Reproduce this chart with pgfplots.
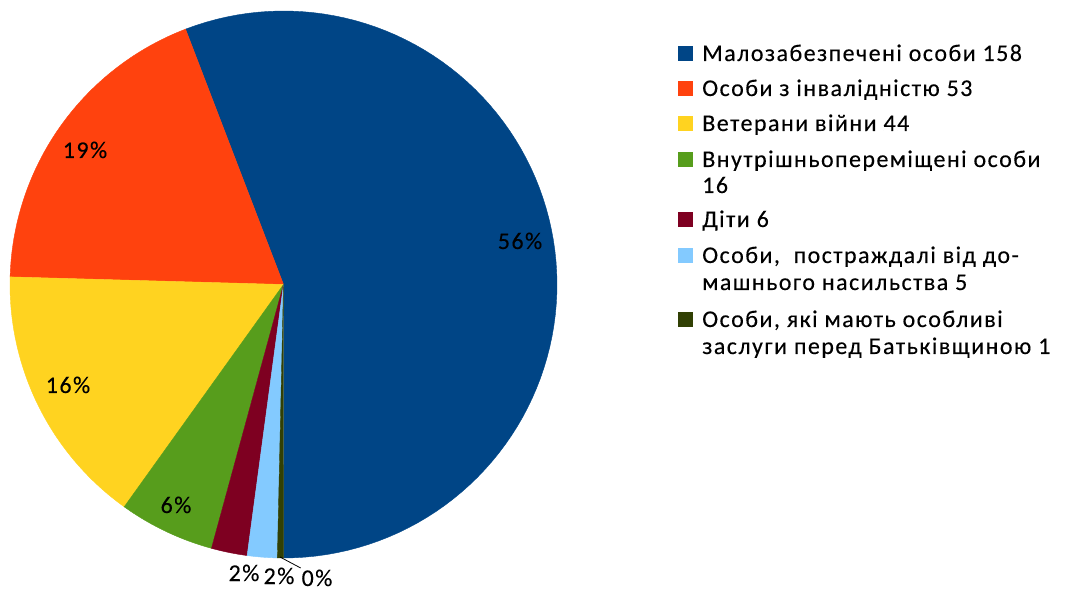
\documentclass[border=0pt]{standalone}
\usepackage{pgfplots}
\usepackage{pgfplotstable}
\pgfplotsset{compat=1.18}
\usepackage{fontspec}
\setmainfont{Carlito}[LetterSpace=6, FakeBold=0.2]
\definecolor{cA}{HTML}{004586}
\definecolor{cB}{HTML}{FF420E}
\definecolor{cC}{HTML}{FFD320}
\definecolor{cD}{HTML}{579D1C}
\definecolor{cE}{HTML}{7E0021}
\definecolor{cF}{HTML}{83CAFF}
\definecolor{cG}{HTML}{314004}
\pgfplotstableread{
value color
158 cA
53 cB
44 cC
16 cD
6 cE
5 cF
1 cG
}\piedata
\begin{document}
\begin{tikzpicture}
\useasboundingbox (0,0) rectangle (798.75pt,442.5pt);
\begin{axis}[at={(0,0)}, anchor=south west, scale only axis,
  width=798.75pt, height=442.5pt, xmin=0, xmax=1065, ymin=0, ymax=590,
  hide axis, clip=false]
\pgfmathsetmacro\cum{-90}
\pgfplotsforeachungrouped \i in {0,...,6}{%
  \pgfplotstablegetelem{\i}{value}\of\piedata \let\v\pgfplotsretval
  \pgfplotstablegetelem{\i}{color}\of\piedata \let\c\pgfplotsretval
  \pgfmathsetmacro\nxt{\cum+\v/283*360}%
  \edef\cmd{\noexpand\addplot[fill=\c, draw=\c, line width=0.3pt, domain=\cum:\nxt, samples=90] ({283.5+273.5*cos(x)},{305.5+273.5*sin(x)}) -- (283.5,305.5) -- cycle;}%
  \cmd
  \global\let\cum\nxt
}
\fontsize{18}{21}\selectfont
\node[anchor=base, inner sep=0] at (520,341) {56\%};
\node[anchor=base, inner sep=0] at (85,432) {19\%};
\node[anchor=base, inner sep=0] at (68,197) {16\%};
\node[anchor=base, inner sep=0] at (176,77) {6\%};
\node[anchor=base, inner sep=0] at (244,9) {2\%};
\node[anchor=base, inner sep=0] at (279,6) {2\%};
\node[anchor=base, inner sep=0] at (317,4) {0\%};
\draw[black, line width=0.6pt] (280,33) -- (300.7,22);
% legend
\fill[cA] (678,529) rectangle (693,544);
\node[anchor=base west, inner sep=0] at (702,529) {Малозабезпечені особи 158};
\fill[cB] (678,494) rectangle (693,509);
\node[anchor=base west, inner sep=0] at (702,494) {Особи з інвалідністю 53};
\fill[cC] (678,459) rectangle (693,474);
\node[anchor=base west, inner sep=0] at (702,459) {Ветерани війни 44};
\fill[cD] (678,423) rectangle (693,438);
\node[anchor=base west, inner sep=0] at (702,423) {Внутрішньопереміщені особи};
\node[anchor=base west, inner sep=0] at (702,397) {16};
\fill[cE] (678,363) rectangle (693,378);
\node[anchor=base west, inner sep=0] at (702,363) {Діти 6};
\fill[cF] (678,327) rectangle (693,342);
\node[anchor=base west, inner sep=0] at (702,327) {Особи, \ постраждалі від до-};
\node[anchor=base west, inner sep=0] at (702,300) {машнього насильства 5};
\fill[cG] (678,263) rectangle (693,278);
\node[anchor=base west, inner sep=0] at (702,263) {Особи, які мають особливі};
\node[anchor=base west, inner sep=0] at (702,236) {заслуги перед Батьківщиною 1};
\end{axis}
\end{tikzpicture}
\end{document}
